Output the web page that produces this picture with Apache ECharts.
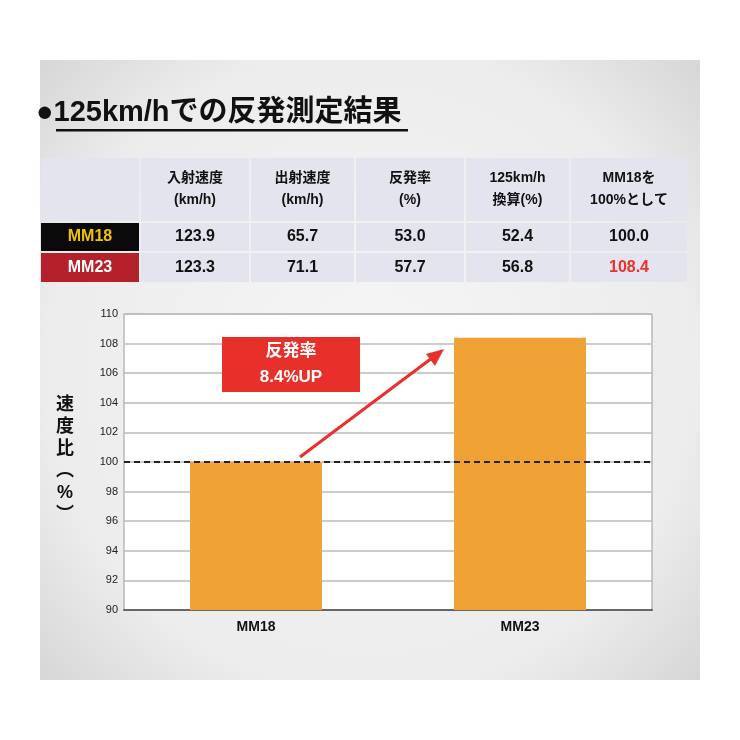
<!DOCTYPE html><html><head><meta charset="utf-8">
<script src="https://cdn.jsdelivr.net/npm/echarts@6/dist/echarts.min.js"></script>
<style>html,body{margin:0;padding:0;background:#fff}#c{width:740px;height:740px}</style></head><body><div id="c"></div>
<script>
const categories = ['MM18','MM23'];
const speedRatio = [100.0, 108.4];
const yTicks = [90,92,94,96,98,100,102,104,106,108,110];
const tableHeaders = ['入射速度\n(km/h)','出射速度\n(km/h)','反発率\n(%)','125km/h\n換算(%)','MM18を\n100%として'];
const rowMM18 = ['123.9','65.7','53.0','52.4','100.0'];
const rowMM23 = ['123.3','71.1','57.7','56.8','108.4'];

const F = '"Liberation Sans","Noto Sans CJK JP",sans-serif';
const chart = echarts.init(document.getElementById('c'));
const g = [];
g.push({type:'rect',shape:{x:40,y:60,width:660,height:620},z:-10,style:{fill:new echarts.graphic.RadialGradient(0.5,0.5,0.75,[{offset:0,color:'#f6f6f6'},{offset:0.7,color:'#ececec'},{offset:1,color:'#d4d4d4'}])}});
g.push({type:'text',x:36,y:98,style:{text:'●125km/hでの反発測定結果',font:'bold 29px '+F,fill:'#111'}});
g.push({type:'rect',shape:{x:56,y:129,width:352,height:2.5},style:{fill:'#111'}});
const colX=[40,140,250,355,465,570,688];
const rowY=[157,222,252,283];
for(let c=0;c<6;c++){
  for(let r=0;r<3;r++){
    let fill='#e4e4ee';
    if(c===0&&r===1)fill='#0a0a0a';
    if(c===0&&r===2)fill='#b4212b';
    g.push({type:'rect',shape:{x:colX[c]+1,y:rowY[r]+1,width:colX[c+1]-colX[c]-2,height:rowY[r+1]-rowY[r]-2},style:{fill}});
  }
}
tableHeaders.forEach((t,i)=>{g.push({type:'text',x:(colX[i+1]+colX[i+2])/2,y:189,style:{text:t,font:'bold 14px '+F,fill:'#111',align:'center',verticalAlign:'middle',lineHeight:22}});});
g.push({type:'text',x:90,y:237,style:{text:'MM18',font:'bold 16px '+F,fill:'#f2c200',align:'center',verticalAlign:'middle'}});
g.push({type:'text',x:90,y:268,style:{text:'MM23',font:'bold 16px '+F,fill:'#fff',align:'center',verticalAlign:'middle'}});
[rowMM18,rowMM23].forEach((row,r)=>row.forEach((t,i)=>{
  g.push({type:'text',x:(colX[i+1]+colX[i+2])/2,y:r?268:237,style:{text:t,font:'bold 16px '+F,fill:(r===1&&i===4)?'#e8322a':'#111',align:'center',verticalAlign:'middle'}});
}));
g.push({type:'text',x:65,y:460,style:{text:'速\n度\n比\n︵\n%\n︶',font:'bold 18px '+F,fill:'#111',align:'center',verticalAlign:'middle',lineHeight:22}});
g.push({type:'rect',z:100,shape:{x:222,y:337,width:138,height:55},style:{fill:'#e8302a'}});
g.push({type:'text',z:101,x:291,y:364,style:{text:'反発率\n8.4%UP',font:'bold 17px '+F,fill:'#fff',align:'center',verticalAlign:'middle',lineHeight:26}});
g.push({type:'line',z:100,shape:{x1:300,y1:457,x2:436,y2:355},style:{stroke:'#e8302a',lineWidth:3}});
g.push({type:'polygon',z:100,shape:{points:[[444,349],[426,354],[435,366]]},style:{fill:'#e8302a'}});

chart.setOption({
  animation:false,
  grid:{left:124,right:88,top:314,bottom:130,backgroundColor:'#fff',show:true,borderColor:'#999',borderWidth:1},
  xAxis:{type:'category',data:categories,axisTick:{show:false},axisLine:{lineStyle:{color:'#666',width:2}},
    axisLabel:{fontFamily:F,fontWeight:'bold',fontSize:14,color:'#111',margin:10}},
  yAxis:{type:'value',min:90,max:110,interval:2,axisLine:{show:false},axisTick:{show:false},
    axisLabel:{fontFamily:F,fontSize:11,color:'#222',margin:6,formatter:v=>yTicks.includes(v)?String(v):''},
    splitLine:{lineStyle:{color:'#bbb',width:1.5}}},
  series:[{type:'bar',data:speedRatio,barWidth:'50%',itemStyle:{color:'#f0a235'},
    markLine:{symbol:'none',silent:true,label:{show:false},lineStyle:{color:'#222',type:[6,4],width:2},data:[{yAxis:100}]}}],
  graphic:g
});
</script></body></html>
